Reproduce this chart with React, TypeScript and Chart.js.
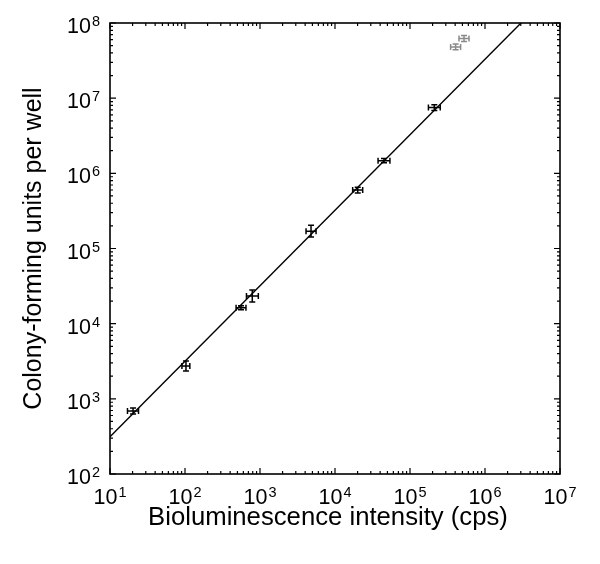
import React, { useEffect, useRef } from "react";
import { Chart, registerables } from "chart.js";

Chart.register(...registerables);

// Calibration points (bioluminescence cps vs CFU per well)
const xValues = [20.3, 103, 558, 789, 4790, 20100, 45000, 211000];
const yValues = [689, 2730, 16250, 23300, 170000, 598000, 1470000, 7500000];
const xLow = [17.1, 91, 480, 660, 4110, 17200, 37500, 176000];
const xHigh = [24.0, 116, 650, 950, 5590, 23400, 54000, 253000];
const yLow = [630, 2340, 15300, 19400, 142000, 546000, 1380000, 6850000];
const yHigh = [755, 3180, 17300, 28000, 204000, 655000, 1570000, 8200000];

// Excluded (saturated) points shown in grey
const outX = [406000, 525000];
const outY = [48000000, 62000000];
const outXLow = [348000, 450000];
const outXHigh = [473000, 612000];
const outYLow = [44000000, 56600000];
const outYHigh = [52600000, 68000000];

// Fitted line end points
const fitX = [10, 3020000];
const fitY = [313, 100000000];

// Axis decades
const xExponents = [1, 2, 3, 4, 5, 6, 7];
const yExponents = [2, 3, 4, 5, 6, 7, 8];

const xTitle = "Bioluminescence intensity (cps)";
const yTitle = "Colony-forming units per well";

const FONT = '"Liberation Sans", Arial, Helvetica, sans-serif';

function drawPower(ctx: CanvasRenderingContext2D, exp: number, x: number, baseline: number, align: "center" | "right") {
  ctx.font = `21.5px ${FONT}`;
  const w10 = ctx.measureText("10").width;
  ctx.font = `14.5px ${FONT}`;
  const wExp = ctx.measureText(String(exp)).width;
  const total = w10 + wExp + 1;
  const start = align === "center" ? x - total / 2 : x - total;
  ctx.textAlign = "left";
  ctx.textBaseline = "alphabetic";
  ctx.fillStyle = "#000";
  ctx.font = `21.5px ${FONT}`;
  ctx.fillText("10", start, baseline);
  ctx.font = `14.5px ${FONT}`;
  ctx.fillText(String(exp), start + w10 + 1, baseline - 7);
}

const errorBarPlugin = {
  id: "errorBars",
  afterDatasetsDraw(chart: any) {
    const ctx = chart.ctx;
    const xs = chart.scales.x;
    const ys = chart.scales.y;
    chart.data.datasets.forEach((ds: any) => {
      if (!ds.errX) return;
      ctx.save();
      ctx.strokeStyle = ds.errColor;
      ctx.lineWidth = 1.5;
      const cap = 3;
      ds.data.forEach((p: any, i: number) => {
        const px = xs.getPixelForValue(p.x);
        const py = ys.getPixelForValue(p.y);
        const xl = xs.getPixelForValue(ds.errX[0][i]);
        const xh = xs.getPixelForValue(ds.errX[1][i]);
        const yl = ys.getPixelForValue(ds.errY[0][i]);
        const yh = ys.getPixelForValue(ds.errY[1][i]);
        ctx.beginPath();
        ctx.moveTo(xl, py);
        ctx.lineTo(xh, py);
        ctx.moveTo(xl, py - cap);
        ctx.lineTo(xl, py + cap);
        ctx.moveTo(xh, py - cap);
        ctx.lineTo(xh, py + cap);
        ctx.moveTo(px, yl);
        ctx.lineTo(px, yh);
        ctx.moveTo(px - cap, yl);
        ctx.lineTo(px + cap, yl);
        ctx.moveTo(px - cap, yh);
        ctx.lineTo(px + cap, yh);
        ctx.stroke();
      });
      ctx.restore();
    });
  },
};

const framePlugin = {
  id: "frame",
  afterDraw(chart: any) {
    const ctx = chart.ctx;
    const xs = chart.scales.x;
    const ys = chart.scales.y;
    const a = chart.chartArea;
    ctx.save();
    ctx.strokeStyle = "#000";
    ctx.lineWidth = 1.6;
    ctx.strokeRect(a.left, a.top, a.right - a.left, a.bottom - a.top);

    ctx.lineWidth = 1.2;
    ctx.beginPath();
    for (let e = xExponents[0]; e <= xExponents[xExponents.length - 1]; e++) {
      for (let m = 1; m <= 9; m++) {
        const v = m * Math.pow(10, e);
        if (v > Math.pow(10, xExponents[xExponents.length - 1])) break;
        const px = xs.getPixelForValue(v);
        const len = m === 1 ? 6 : 3;
        ctx.moveTo(px, a.bottom);
        ctx.lineTo(px, a.bottom - len);
        ctx.moveTo(px, a.top);
        ctx.lineTo(px, a.top + len);
      }
    }
    for (let e = yExponents[0]; e <= yExponents[yExponents.length - 1]; e++) {
      for (let m = 1; m <= 9; m++) {
        const v = m * Math.pow(10, e);
        if (v > Math.pow(10, yExponents[yExponents.length - 1])) break;
        const py = ys.getPixelForValue(v);
        const len = m === 1 ? 6 : 3;
        ctx.moveTo(a.left, py);
        ctx.lineTo(a.left + len, py);
        ctx.moveTo(a.right, py);
        ctx.lineTo(a.right - len, py);
      }
    }
    ctx.stroke();

    xExponents.forEach((e) => {
      drawPower(ctx, e, xs.getPixelForValue(Math.pow(10, e)), a.bottom + 30, "center");
    });
    yExponents.forEach((e) => {
      drawPower(ctx, e, a.left - 10, ys.getPixelForValue(Math.pow(10, e)) + 10, "right");
    });

    ctx.fillStyle = "#000";
    ctx.font = `25.7px ${FONT}`;
    ctx.textAlign = "center";
    ctx.textBaseline = "alphabetic";
    ctx.fillText(xTitle, (a.left + a.right) / 2 - 7, a.bottom + 51);

    ctx.save();
    ctx.translate(41, (a.top + a.bottom) / 2);
    ctx.rotate(-Math.PI / 2);
    ctx.font = `25px ${FONT}`;
    ctx.fillText(yTitle, 0, 0);
    ctx.restore();
    ctx.restore();
  },
};

export default function App() {
  const canvasRef = useRef<HTMLCanvasElement | null>(null);

  useEffect(() => {
    const canvas = canvasRef.current;
    if (!canvas) return;
    const mainPts = xValues.map((x, i) => ({ x, y: yValues[i] }));
    const outPts = outX.map((x, i) => ({ x, y: outY[i] }));
    const fitPts = fitX.map((x, i) => ({ x, y: fitY[i] }));
    const chart = new Chart(canvas, {
      type: "scatter",
      data: {
        datasets: [
          {
            label: "fit",
            data: fitPts,
            showLine: true,
            borderColor: "#000",
            borderWidth: 1.4,
            pointRadius: 0,
          } as any,
          {
            label: "data",
            data: mainPts,
            pointRadius: 0,
            errX: [xLow, xHigh],
            errY: [yLow, yHigh],
            errColor: "#000",
          } as any,
          {
            label: "excluded",
            data: outPts,
            pointRadius: 0,
            errX: [outXLow, outXHigh],
            errY: [outYLow, outYHigh],
            errColor: "#8a8a8a",
          } as any,
        ],
      },
      options: {
        animation: false,
        responsive: true,
        maintainAspectRatio: false,
        layout: { padding: { left: 110, right: 40, top: 23, bottom: 90 } },
        plugins: { legend: { display: false }, tooltip: { enabled: false } },
        scales: {
          x: { type: "logarithmic", min: 10, max: 10000000, display: false },
          y: { type: "logarithmic", min: 100, max: 100000000, display: false },
        },
      },
      plugins: [errorBarPlugin, framePlugin],
    });
    return () => chart.destroy();
  }, []);

  return (
    <div style={{ position: "absolute", left: 0, top: 0, width: 600, height: 564, background: "#fff" }}>
      <canvas ref={canvasRef} style={{ display: "block" }} />
    </div>
  );
}
